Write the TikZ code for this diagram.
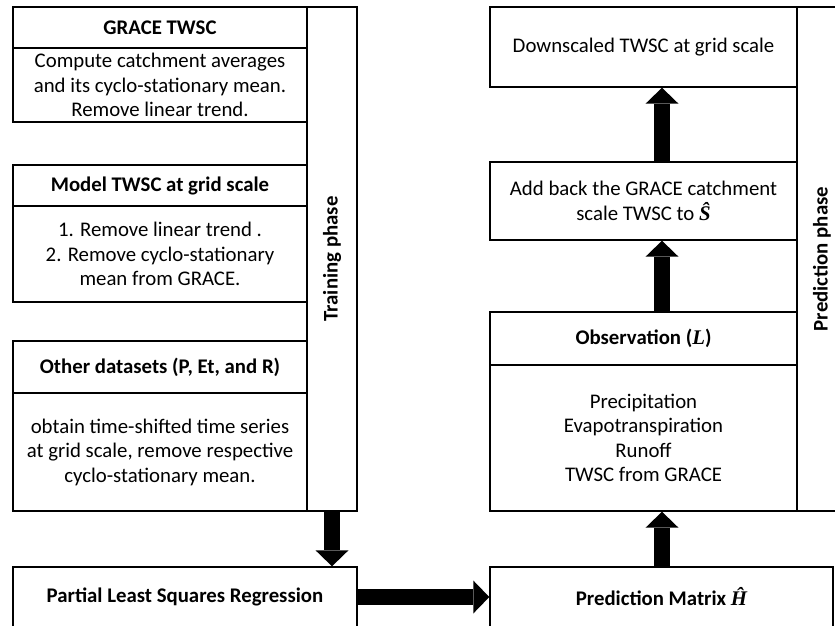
\documentclass[tikz,border=0pt]{standalone}
\usepackage{fontspec}
\setmainfont{Carlito}
\newfontfamily\symser{Liberation Serif}
\usetikzlibrary{arrows.meta}
\tikzset{
  box/.style={draw, line width=1.4pt, inner sep=0pt, align=center,
    font=\fontsize{20.8}{24.5}\selectfont},
  hdr/.style={box, font=\fontsize{20.8}{24.5}\selectfont\bfseries},
  bigarrow/.style={line width=16pt, -{Triangle[width=33pt,length=16pt,line width=0pt]}},
}
\newcommand{\symvar}[1]{{\symser\bfseries\itshape #1}}
\begin{document}
\begin{tikzpicture}[x=1pt,y=-1pt]
\useasboundingbox (0,0) rectangle (835,625);
\clip (0,0) rectangle (835,625);
% left column
\node[hdr, minimum width=294pt, minimum height=41pt] (graceh) at (160,27.5) {GRACE TWSC};
\node[box, minimum width=294pt, minimum height=74pt] (graceb) at (160,85)
  {Compute catchment averages\\and its cyclo-stationary mean.\\Remove linear trend.};
\node[hdr, minimum width=294pt, minimum height=41pt] (modelh) at (160,185.5) {Model TWSC at grid scale};
\node[box, minimum width=294pt, minimum height=96pt] (modelb) at (160,254)
  {1. Remove linear trend .\\2. Remove cyclo-stationary\\mean from GRACE.};
\node[hdr, minimum width=294pt, minimum height=52pt] (otherh) at (160,367) {Other datasets (P, Et, and R)};
\node[box, minimum width=294pt, minimum height=118pt] (otherb) at (160,452)
  {obtain time-shifted time series\\at grid scale, remove respective\\cyclo-stationary mean.};
\node[box, minimum width=50pt, minimum height=504pt] (train) at (332,259) {};
\node[font=\fontsize{20.8}{24.5}\selectfont\bfseries, rotate=90] (trainlbl) at (train.center) {Training phase};
\node[hdr, minimum width=344pt, minimum height=60pt] (plsr) at (185,597) {Partial Least Squares Regression};
% right column
\node[hdr, minimum width=343pt, minimum height=60pt] (pm) at (661.5,597) {Prediction Matrix \symvar{Ĥ}};
\node[hdr, minimum width=307pt, minimum height=53pt] (obsh) at (643.5,338.5) {Observation ({\symser\itshape L})};
\node[box, minimum width=307pt, minimum height=146pt] (obsb) at (643.5,438)
  {Precipitation\\Evapotranspiration\\Runoff\\TWSC from GRACE};
\node[box, minimum width=307pt, minimum height=78pt] (add) at (643.5,201)
  {Add back the GRACE catchment\\scale TWSC to \symvar{Ŝ}};
\node[box, minimum width=307pt, minimum height=80pt] (down) at (643.5,47) {Downscaled TWSC at grid scale};
\node[box, minimum width=50pt, minimum height=504pt] (pred) at (822,259) {};
\node[font=\fontsize{20.8}{24.5}\selectfont\bfseries, rotate=90] (predlbl) at (pred.center) {Prediction phase};
% connectors
\coordinate (ax) at (662,0);
\draw[bigarrow] (train.south) -- (train.south |- plsr.north);
\draw[bigarrow] (plsr.east) -- (pm.west);
\draw[bigarrow] (ax |- pm.north) -- (ax |- obsb.south);
\draw[bigarrow] (ax |- obsh.north) -- (ax |- add.south);
\draw[bigarrow] (ax |- add.north) -- (ax |- down.south);
\end{tikzpicture}
\end{document}
